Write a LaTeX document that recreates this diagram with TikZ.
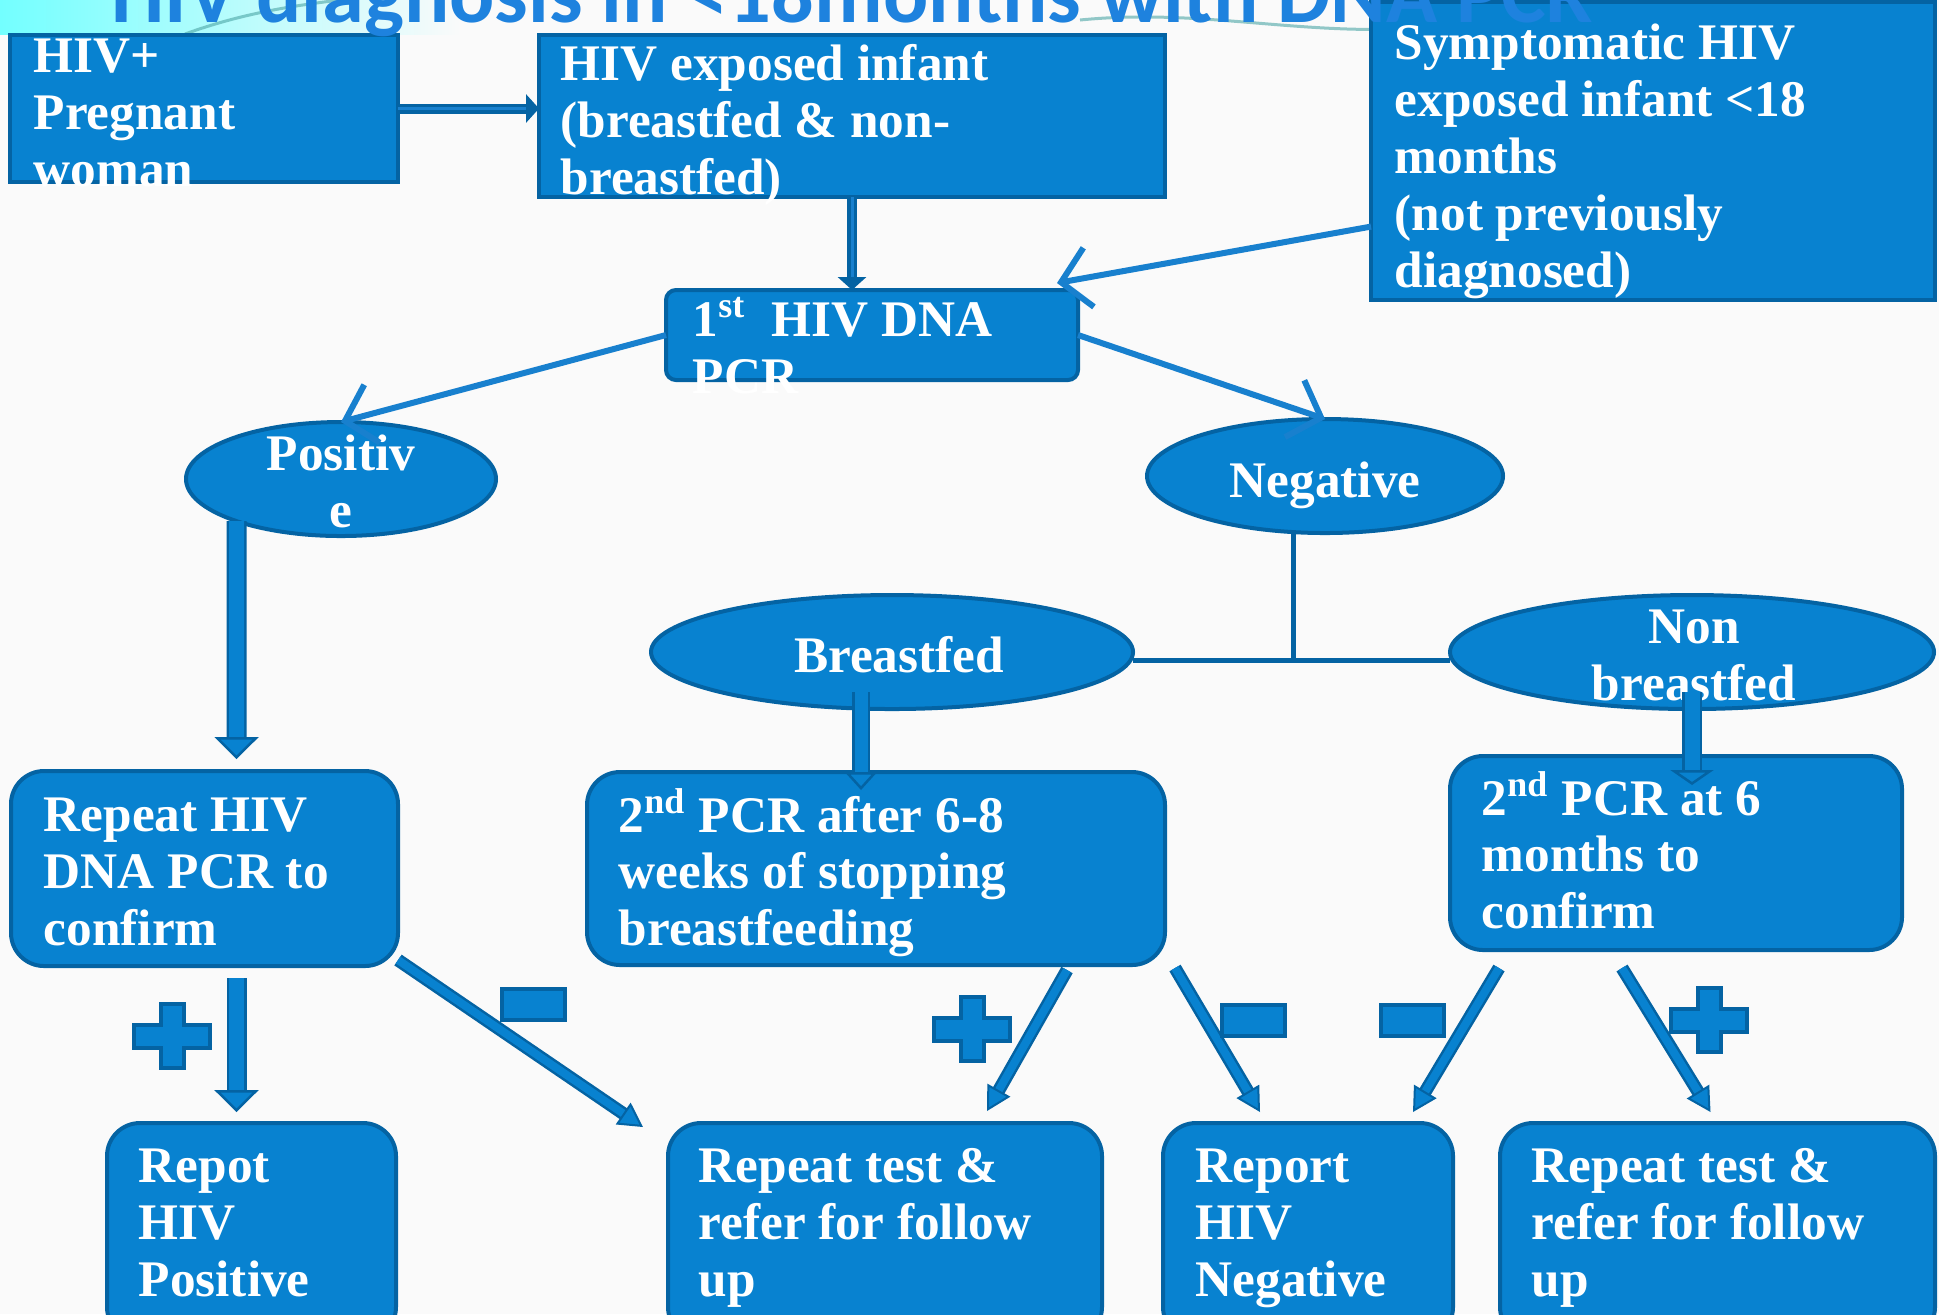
\documentclass[tikz,border=0pt]{standalone}
\usepackage{fontspec}
\setmainfont{Liberation Serif}
\newfontfamily\titlefont{Carlito}
\usetikzlibrary{positioning}
\usetikzlibrary{shapes.geometric}
\usetikzlibrary{arrows.meta}
\usetikzlibrary{calc}

\definecolor{boxblue}{RGB}{8,130,208}
\definecolor{edgeblue}{RGB}{4,99,163}
\definecolor{lineblue}{RGB}{24,128,206}
\definecolor{titleblue}{RGB}{30,130,222}
\definecolor{paper}{RGB}{250,250,250}

\newcommand{\boxfont}{\bfseries\fontsize{14.6pt}{16.2pt}\selectfont}

\tikzset{
  sqbox/.style={rectangle, fill=boxblue, draw=edgeblue, line width=0.4mm,
    outer sep=0pt, inner sep=0pt},
  rbox/.style={sqbox, rounded corners=3.3mm},
  oval/.style={ellipse, fill=boxblue, draw=edgeblue, line width=0.4mm,
    outer sep=0pt, inner sep=0pt},
  txt/.style={anchor=north west, align=left, inner sep=0pt, text=white, font=\boxfont},
  otxt/.style={align=center, inner sep=0pt, text=white, font=\boxfont},
  flowline/.style={draw=lineblue, line width=0.6mm,
    -{Straight Barb[length=2.8mm, width=6mm]}},
  joinline/.style={draw=edgeblue, line width=0.5mm},
  dblline/.style={draw=edgeblue, line width=0.35mm, double=lineblue, double distance=0.3mm,
    -{Triangle[length=1.3mm, width=2.8mm, fill=edgeblue]}},
  blockarrow/.style={draw=edgeblue, line width=0.25mm, double=boxblue, double distance=#1},
  bigtip/.style={-{Triangle[length=2.2mm, width=4.4mm, fill=boxblue, line width=0.25mm]}},
  smalltip/.style={-{Triangle[length=2.4mm, width=2.6mm, fill=boxblue, line width=0.2mm]}},
  sign/.style={fill=boxblue, draw=edgeblue, line width=0.4mm},
  plussign/.pic={
    \filldraw[sign] (-11.5,-32) -- (11.5,-32) -- (11.5,-11.5) -- (38,-11.5) -- (38,11.5)
      -- (11.5,11.5) -- (11.5,32) -- (-11.5,32) -- (-11.5,11.5) -- (-38,11.5)
      -- (-38,-11.5) -- (-11.5,-11.5) -- cycle;
  },
  minussign/.pic={
    \filldraw[sign] (-31.5,-15.5) rectangle (31.5,15.5);
  }
}

\begin{document}
\begin{tikzpicture}[x=0.1mm, y=-0.1mm]
  \useasboundingbox (0,0) rectangle (1939,1314);
  \clip (0,0) rectangle (1939,1314);
  \fill[paper] (0,0) rectangle (1939,1314);
  \shade[left color=cyan!55, right color=paper] (0,0) rectangle (460,34);
  \draw[teal!70, line width=0.3mm, opacity=0.6] (185,34) .. controls (240,14) and (290,6) .. (340,0);
  \draw[teal!70, line width=0.3mm, opacity=0.6] (1080,20) .. controls (1200,8) and (1300,36) .. (1420,28);

  % boxes
  \node[sqbox, minimum width=38.8mm, minimum height=14.7mm] (preg) at (204,108.5) {};
  \node[sqbox, minimum width=62.6mm, minimum height=16.2mm] (infant) at (852,116) {};
  \node[sqbox, minimum width=56.4mm, minimum height=29.8mm] (symp) at (1653,151) {};
  \node[sqbox, rounded corners=1mm, minimum width=41.2mm, minimum height=9mm] (pcr1) at (872,335) {};

  \node[oval, minimum width=31mm, minimum height=11.4mm] (pos) at (341,479) {};
  \node[oval, minimum width=35.6mm, minimum height=11.4mm] (neg) at (1325,476) {};
  \node[oval, minimum width=48.2mm, minimum height=11.4mm] (bf) at (892,652) {};
  \node[oval, minimum width=48.4mm, minimum height=11.4mm] (nbf) at (1692,652) {};

  \node[rbox, minimum width=38.7mm, minimum height=19.5mm] (rep1) at (204.5,868.5) {};
  \node[rbox, minimum width=57.8mm, minimum height=19.3mm] (pcr2bf) at (876,868.5) {};
  \node[rbox, minimum width=45.2mm, minimum height=19.4mm] (pcr2nbf) at (1676,853) {};

  \node[rbox, minimum width=28.9mm, minimum height=21.7mm] (reppos) at (251.5,1231.5) {};
  \node[rbox, minimum width=43.4mm, minimum height=21.7mm] (reptest1) at (885,1231.5) {};
  \node[rbox, minimum width=29mm, minimum height=21.7mm] (repneg) at (1308,1231.5) {};
  \node[rbox, minimum width=43.5mm, minimum height=21.7mm] (reptest2) at (1717.5,1231.5) {};

  % texts
  \node[txt] (preg-t) at ($(preg.north west)+(23,3)$) {HIV+\\Pregnant\\woman};
  \node[txt] (infant-t) at ($(infant.north west)+(21,9)$) {HIV exposed infant\\(breastfed \& non-\\breastfed)};
  \node[txt] (symp-t) at ($(symp.north west)+(23,21)$) {Symptomatic HIV\\exposed infant <18\\months\\(not previously\\diagnosed)};
  \node[txt] (pcr1-t) at ($(pcr1.north west)+(26,7)$) {1\textsuperscript{st}\ \ HIV DNA\\PCR};
  \node[otxt, anchor=north] (pos-t) at ($(pos.center)+(0,-45)$) {Positiv\\e};
  \node[otxt, anchor=base] (neg-t) at ($(neg.center)+(0,21)$) {Negative};
  \node[otxt, anchor=base] (bf-t) at ($(bf.center)+(7,20)$) {Breastfed};
  \node[otxt, anchor=north] (nbf-t) at ($(nbf.center)+(2,-43)$) {Non\\breastfed};
  \node[txt] (rep1-t) at ($(rep1.north west)+(32,26)$) {Repeat HIV\\DNA PCR to\\confirm};
  \node[txt] (pcr2bf-t) at ($(pcr2bf.north west)+(31,16)$) {2\textsuperscript{nd} PCR after 6-8\\weeks of stopping\\breastfeeding};
  \node[txt] (pcr2nbf-t) at ($(pcr2nbf.north west)+(31,15)$) {2\textsuperscript{nd} PCR at 6\\months to\\confirm};
  \node[txt] (reppos-t) at ($(reppos.north west)+(31,25)$) {Repot\\HIV\\Positive};
  \node[txt] (reptest1-t) at ($(reptest1.north west)+(30,25)$) {Repeat test \&\\refer for follow\\up};
  \node[txt] (repneg-t) at ($(repneg.north west)+(32,25)$) {Report\\HIV\\Negative};
  \node[txt] (reptest2-t) at ($(reptest2.north west)+(31,25)$) {Repeat test \&\\refer for follow\\up};

  % connectors
  \draw[dblline] (preg.east) -- (preg.east -| infant.west);
  \draw[dblline] (infant.south) -- (infant.south |- pcr1.north);
  \draw[flowline] (symp.195) -- ($(pcr1.north east)+(-21,-7)$);
  \draw[flowline] (pcr1.west) -- (pos.north);
  \draw[flowline] (pcr1.east) -- (neg.north);

  \coordinate (junc) at ($(neg.south)+(-32,127)$);
  \draw[joinline] ($(neg.south)+(-32,0)$) -- (junc);
  \draw[joinline] (bf.east |- junc) -- (nbf.west |- junc);

  \draw[blockarrow=1.5mm, bigtip] (pos.202) -- ($(rep1.north)+(32,-12)$);
  \draw[blockarrow=1.5mm, bigtip] ($(rep1.south)+(32,12)$) -- ($(reppos.north)+(-15,-11)$);
  \draw[blockarrow=1.3mm, -{Triangle[length=1.8mm, width=3.2mm, fill=boxblue, line width=0.25mm]}]
    ($(bf.south)+(-31,-17)$) -- ($(pcr2bf.north)+(-15,18)$);
  \draw[blockarrow=1.5mm, -{Triangle[length=1.5mm, width=4.3mm, fill=boxblue, line width=0.25mm]}]
    ($(nbf.south)+(0,-17)$) -- ($(pcr2nbf.north)+(16,29)$);

  \draw[blockarrow=0.8mm, smalltip] ($(rep1.south east)+(0,-6)$) -- ($(reptest1.north west)+(-25,4)$);
  \draw[blockarrow=0.8mm, smalltip] ($(pcr2bf.south)+(191,5)$) -- ($(reptest1.north)+(102,-12)$);
  \draw[blockarrow=0.8mm, smalltip] ($(pcr2bf.south east)+(10,3)$) -- ($(repneg.north)+(-48,-11)$);
  \draw[blockarrow=0.8mm, smalltip] ($(pcr2nbf.south)+(-177,18)$) -- ($(repneg.north)+(105,-11)$);
  \draw[blockarrow=0.8mm, smalltip] ($(pcr2nbf.south)+(-54,18)$) -- ($(reptest2.north)+(-7,-11)$);

  % signs
  \pic at (172,1036) {plussign};
  \pic at (533,1004) {minussign};
  \pic at (972,1029) {plussign};
  \pic at (1253,1020) {minussign};
  \pic at (1412,1020) {minussign};
  \pic at (1709,1020) {plussign};

  \node[anchor=base west, inner sep=0pt, text=titleblue,
    font=\titlefont\bfseries\fontsize{24pt}{24pt}\selectfont] (title) at (111,22)
    {HIV diagnosis in <18months with DNA PCR};
\end{tikzpicture}
\end{document}
